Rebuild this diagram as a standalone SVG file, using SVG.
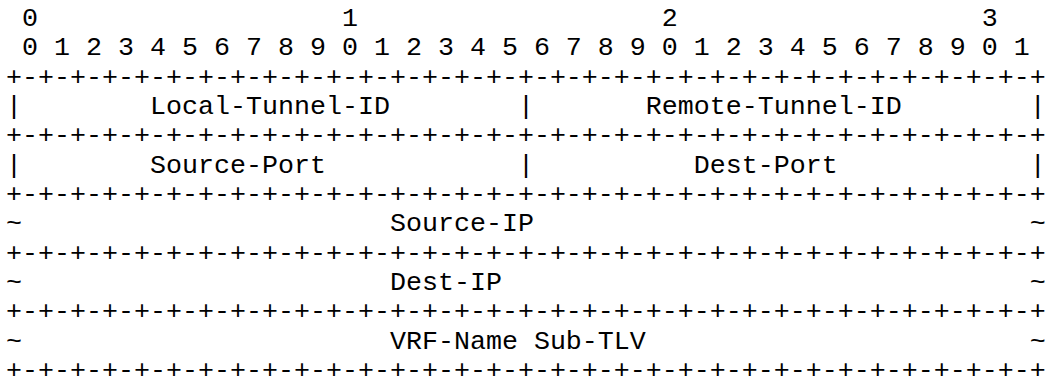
<svg xmlns="http://www.w3.org/2000/svg" width="1047" height="378" viewBox="0 0 1047 378">
<style>
text{font-family:"Liberation Mono","Courier New",monospace;font-size:26.67px;fill:#000;white-space:pre}
</style>
<rect width="1047" height="378" fill="#fff"/>
<g id="packet" xml:space="preserve">
<text x="6" y="26"> 0                   1                   2                   3</text>
<text x="6" y="55.3"> 0 1 2 3 4 5 6 7 8 9 0 1 2 3 4 5 6 7 8 9 0 1 2 3 4 5 6 7 8 9 0 1</text>
<text x="6" y="84.7">+-+-+-+-+-+-+-+-+-+-+-+-+-+-+-+-+-+-+-+-+-+-+-+-+-+-+-+-+-+-+-+-+</text>
<text x="6" y="114">|        Local-Tunnel-ID        |       Remote-Tunnel-ID        |</text>
<text x="6" y="143.3">+-+-+-+-+-+-+-+-+-+-+-+-+-+-+-+-+-+-+-+-+-+-+-+-+-+-+-+-+-+-+-+-+</text>
<text x="6" y="172.7">|        Source-Port            |          Dest-Port            |</text>
<text x="6" y="202">+-+-+-+-+-+-+-+-+-+-+-+-+-+-+-+-+-+-+-+-+-+-+-+-+-+-+-+-+-+-+-+-+</text>
<text x="6" y="231.3">~                       Source-IP                               ~</text>
<text x="6" y="260.7">+-+-+-+-+-+-+-+-+-+-+-+-+-+-+-+-+-+-+-+-+-+-+-+-+-+-+-+-+-+-+-+-+</text>
<text x="6" y="290">~                       Dest-IP                                 ~</text>
<text x="6" y="319.3">+-+-+-+-+-+-+-+-+-+-+-+-+-+-+-+-+-+-+-+-+-+-+-+-+-+-+-+-+-+-+-+-+</text>
<text x="6" y="348.7">~                       VRF-Name Sub-TLV                        ~</text>
<text x="6" y="378">+-+-+-+-+-+-+-+-+-+-+-+-+-+-+-+-+-+-+-+-+-+-+-+-+-+-+-+-+-+-+-+-+</text>
</g>
</svg>
